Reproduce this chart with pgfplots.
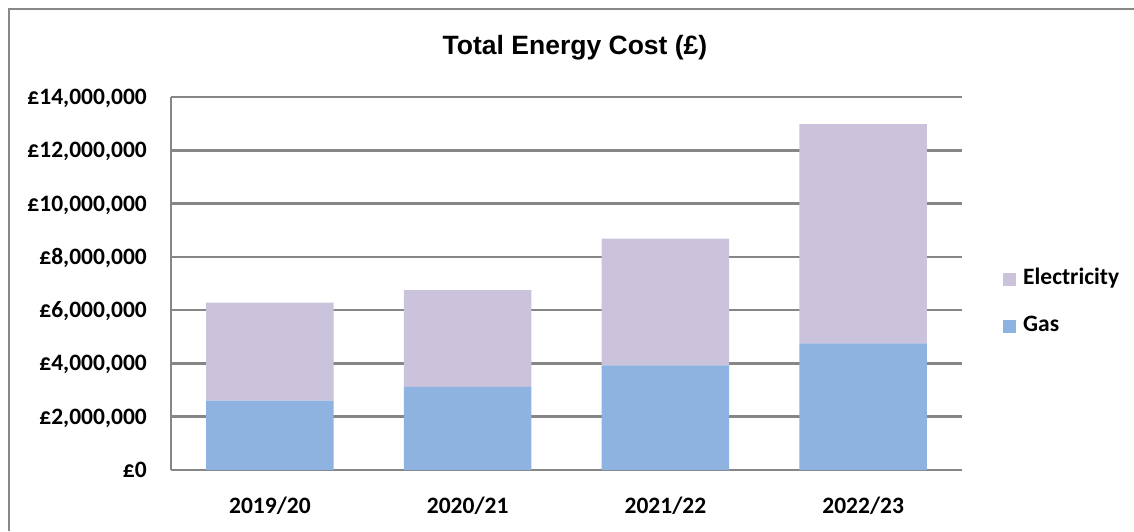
\documentclass[border=0pt]{standalone}
\usepackage{fontspec}
\setmainfont{Carlito}
\newfontfamily\titlefont{Liberation Sans}
\usepackage{pgfplots}
\pgfplotsset{compat=1.18}
\definecolor{gasc}{RGB}{142,179,225}
\definecolor{elecc}{RGB}{203,194,220}
\definecolor{gridc}{RGB}{134,134,134}
\definecolor{borderc}{RGB}{136,136,136}
\begin{document}
\begin{tikzpicture}[x=1pt,y=1pt]
\useasboundingbox[fill=white] (0,0) rectangle (1134,-531);
\draw[borderc, line width=2.5pt] (9,-531) -- (9,-9) -- (1134,-9);
\node[anchor=base, font=\titlefont\fontsize{26.5}{30}\selectfont\bfseries] at (575,-54) {Total Energy Cost (£)};
\begin{axis}[
  at={(171pt,-470pt)}, anchor=south west,
  scale only axis, width=791pt, height=373pt,
  ybar stacked, bar width=127.5pt,
  xmin=-0.5, xmax=3.5, ymin=0, ymax=14000000,
  xtick={0,1,2,3},
  xticklabels={2019/20,2020/21,2021/22,2022/23},
  ytick={0,2000000,4000000,6000000,8000000,10000000,12000000,14000000},
  yticklabels={{£0},{£2,000,000},{£4,000,000},{£6,000,000},{£8,000,000},{£10,000,000},{£12,000,000},{£14,000,000}},
  scaled y ticks=false,
  major tick length=0pt,
  axis x line*=bottom, axis y line*=left,
  axis line style={draw=gridc, line width=2.5pt, -},
  ymajorgrids, grid style={draw=gridc, line width=2.5pt},
  tick label style={font=\fontsize{23.5}{28}\selectfont\bfseries, text=black},
  yticklabel style={anchor=base east, inner sep=0pt, xshift=-24pt, yshift=-7.5pt},
  xticklabel style={anchor=base, inner sep=0pt, yshift=-43pt},
  reverse legend,
  legend style={at={(1.048,0.449)}, anchor=west, draw=none, fill=none,
    font=\fontsize{23.5}{28}\selectfont\bfseries,
    nodes={inner sep=0pt, text height=16pt, text depth=5pt},
    row sep=26pt, legend cell align=left,
    /tikz/every odd column/.append style={column sep=7pt}},
]
\addplot[fill=gasc, draw=none,
  legend image code/.code={\fill[gasc] (0pt,-6.5pt) rectangle (13pt,6.5pt);}]
  coordinates {(0,2600000) (1,3120000) (2,3930000) (3,4750000)};
\addlegendentry{Gas}
\addplot[fill=elecc, draw=none,
  legend image code/.code={\fill[elecc] (0pt,-6.5pt) rectangle (13pt,6.5pt);}]
  coordinates {(0,3680000) (1,3630000) (2,4750000) (3,8230000)};
\addlegendentry{Electricity}
\end{axis}
\end{tikzpicture}
\end{document}
